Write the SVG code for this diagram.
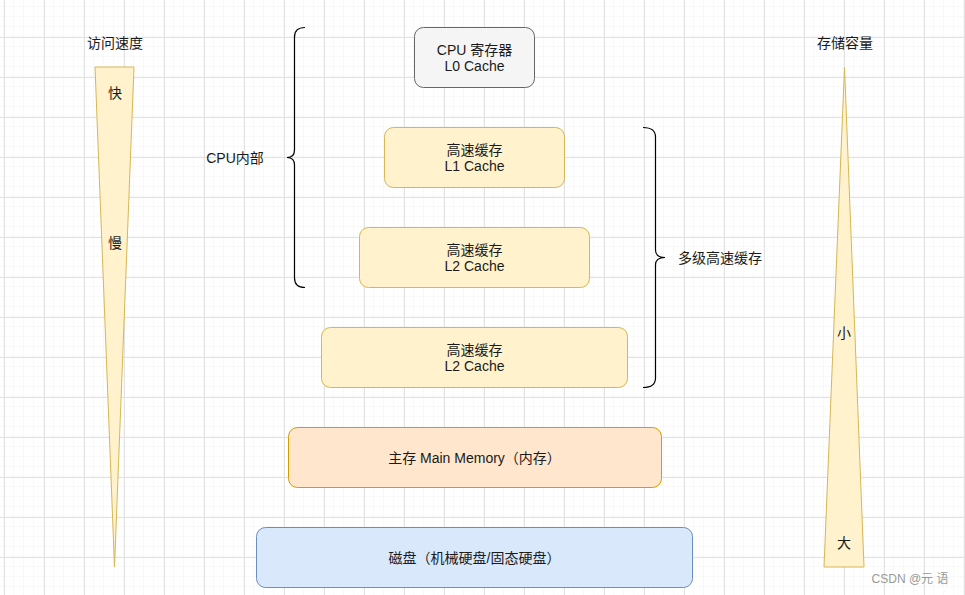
<svg xmlns="http://www.w3.org/2000/svg" width="965" height="595" viewBox="0 0 965 595">
<defs>
<pattern id="minor" x="4" y="-3" width="10" height="10" patternUnits="userSpaceOnUse">
<path d="M10,0 V10 M0,10 H10" fill="none" stroke="#f2f2f2" stroke-width="1"/>
</pattern>
<pattern id="major" x="4" y="-3" width="40" height="40" patternUnits="userSpaceOnUse">
<path d="M0.5,0 V40 M0,0.5 H40" fill="none" stroke="#e2e2e2" stroke-width="1"/>
</pattern>
</defs>
<style>
text{font-family:"Liberation Sans","Noto Sans CJK SC",sans-serif;font-size:14px;fill:#1a1a1a;text-anchor:middle;dominant-baseline:central}
.gray{fill:#f5f5f5;stroke:#666666}
.yellow{fill:#fff2cc;stroke:#d6b656}
.orange{fill:#ffe6cc;stroke:#d79b00}
.blue{fill:#dae8fc;stroke:#6c8ebf}
.brace{fill:none;stroke:#000;stroke-width:1.2}
</style>
<rect width="965" height="595" fill="#ffffff"/>
<rect width="965" height="595" fill="url(#minor)"/>
<rect width="965" height="595" fill="url(#major)"/>

<g id="speed-label"><text x="115" y="43">访问速度</text></g>
<g id="speed-triangle">
<polygon class="yellow" points="95,67 134,67 114.5,567"/>
<text x="115" y="93">快</text>
<text x="115" y="243">慢</text>
</g>

<g id="capacity-label"><text x="845" y="43">存储容量</text></g>
<g id="capacity-triangle">
<polygon class="yellow" points="844.5,67 864,567 824,567"/>
<text x="844" y="333">小</text>
<text x="844" y="543">大</text>
</g>

<g id="l0">
<rect class="gray" x="414.5" y="27.5" width="120" height="60" rx="9"/>
<text x="474.5" y="50">CPU 寄存器</text>
<text x="474.5" y="66">L0 Cache</text>
</g>
<g id="l1">
<rect class="yellow" x="384.5" y="127.5" width="180" height="60" rx="9"/>
<text x="474.5" y="150">高速缓存</text>
<text x="474.5" y="166">L1 Cache</text>
</g>
<g id="l2">
<rect class="yellow" x="359.5" y="227.5" width="230" height="60" rx="9"/>
<text x="474.5" y="250">高速缓存</text>
<text x="474.5" y="266">L2 Cache</text>
</g>
<g id="l3">
<rect class="yellow" x="321.5" y="327.5" width="306" height="60" rx="9"/>
<text x="474.5" y="350">高速缓存</text>
<text x="474.5" y="366">L2 Cache</text>
</g>
<g id="memory">
<rect class="orange" x="288.5" y="427.5" width="373" height="60" rx="9"/>
<text x="474.5" y="458">主存 Main Memory（内存）</text>
</g>
<g id="disk">
<rect class="blue" x="256.5" y="527.5" width="436" height="60" rx="9"/>
<text x="474.5" y="558">磁盘（机械硬盘/固态硬盘）</text>
</g>

<g id="connectors">
<path class="brace" d="M305,27.5 Q294.5,27.5 294.5,37 L294.5,150 Q294.5,157.5 287,157.5 Q294.5,157.5 294.5,165 L294.5,278 Q294.5,287.5 305,287.5"/>
<path class="brace" d="M643,127.5 Q655.5,127.5 655.5,137 L655.5,250 Q655.5,257.5 665,257.5 Q655.5,257.5 655.5,265 L655.5,378 Q655.5,387.5 643,387.5"/>
</g>

<g id="cpu-label"><text x="235" y="158">CPU内部</text></g>
<g id="cache-label"><text x="720" y="258">多级高速缓存</text></g>

<text x="910" y="579" style="font-size:12px;fill:#999999">CSDN @元 语</text>
</svg>
